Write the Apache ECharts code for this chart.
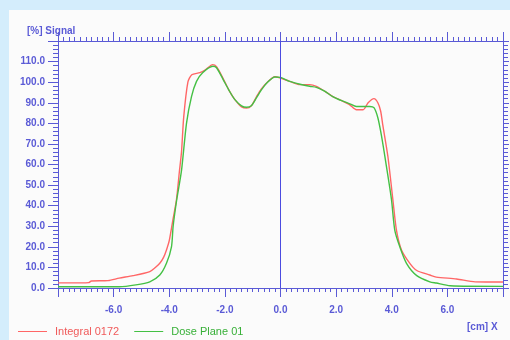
<!DOCTYPE html>
<html>
<head>
<meta charset="utf-8">
<script src="https://cdn.jsdelivr.net/npm/echarts@6/dist/echarts.min.js"></script>
<style>
  html, body { margin: 0; padding: 0; background: #d4edfc; }
  #main { width: 510px; height: 340px; }
</style>
</head>
<body>
<div id="main"></div>
<script>
// Integral 0172 (red) profile, x in cm, y in %
var redX = [-8.0, -7.2, -6.9, -6.8, -6.2, -5.8, -5.3, -4.7, -4.5, -4.34, -4.2, -4.1, -4.0, -3.87, -3.74, -3.64, -3.56, -3.48, -3.33, -3.19, -2.9, -2.7, -2.44, -2.3, -2.07, -1.85, -1.64, -1.4, -1.22, -1.05, -0.86, -0.7, -0.5, -0.2, 0.0, 0.33, 0.7, 1.05, 1.29, 1.6, 1.88, 2.2, 2.49, 2.73, 2.97, 3.15, 3.36, 3.5, 3.6, 3.68, 3.86, 4.04, 4.17, 4.35, 4.65, 4.9, 5.37, 5.6, 6.33, 7.0, 8.0];
var redY = [2.5, 2.5, 2.6, 3.4, 3.6, 4.8, 6.0, 8.0, 10, 12, 15, 18.5, 23, 33, 43, 56, 66, 83, 100, 103.6, 104.6, 106, 108.5, 107.5, 102, 96, 91.5, 88, 87.4, 88.5, 93, 96.5, 99.6, 102.6, 102, 100.4, 98.8, 98.8, 98, 95.5, 93, 91, 89, 86.6, 86.6, 90, 92, 90, 86, 79, 64, 43, 28, 18.5, 12, 8.5, 6.3, 5.3, 4.4, 3.0, 2.9];

// Dose Plane 01 (green) profile
var greenX = [-8.0, -5.8, -5.2, -4.7, -4.34, -4.1, -3.92, -3.86, -3.73, -3.56, -3.38, -3.2, -3.02, -2.8, -2.43, -2.3, -2.07, -1.85, -1.64, -1.4, -1.22, -1.05, -0.86, -0.7, -0.5, -0.2, 0.0, 0.33, 0.7, 1.05, 1.29, 1.6, 1.88, 2.2, 2.49, 2.73, 3.09, 3.21, 3.36, 3.5, 3.63, 3.81, 3.99, 4.11, 4.29, 4.53, 4.9, 5.37, 5.6, 6.1, 8.0];
var greenY = [0.6, 0.6, 1.5, 3, 6.3, 12, 20, 30, 43, 57, 80, 93, 100.4, 104.6, 107.7, 107, 101.5, 96, 91.5, 88.5, 87.8, 88.5, 92.5, 96, 99.5, 102.5, 102.3, 100.4, 99, 98, 97.5, 95.5, 93, 91, 89.5, 88.2, 88.2, 88.2, 87.6, 82.7, 74, 59, 43, 28, 20, 12, 6, 3, 2.4, 1.1, 0.8];

var seriesNames = ["Integral 0172", "Dose Plane 01"];
var axisColor = "#5a5ad6";

// zip x/y arrays into points
function toPoints(xs, ys){
	var pts = [];
	for(var i = 0; i < xs.length; i++){
		pts.push([xs[i], ys[i]]);
	}
	return pts;
}

function fmt(v){ return v.toFixed(1); }

var myChart = echarts.init(document.getElementById("main"));

var labelFont = { color: axisColor, fontFamily: "Liberation Sans", fontWeight: "bold", fontSize: 10 };

option = {
	backgroundColor: "#d4edfc",
	animation: false,
	graphic: [
		{ type: "rect", left: 9, top: 10, shape: { width: 501, height: 330 }, style: { fill: "#fbfbfb" }, z: -10 },
		{ type: "text", left: 27, top: 26, style: { text: "[%] Signal", fill: axisColor, font: "bold 10px 'Liberation Sans'" } },
		{ type: "text", left: 467, top: 322, style: { text: "[cm] X", fill: axisColor, font: "bold 10px 'Liberation Sans'" } }
	],
	legend: {
		left: 13,
		top: 321,
		itemWidth: 29,
		itemHeight: 8,
		itemGap: 15,
		icon: "path://M0,4 L29,4 L29,5 L0,5 Z",
		textStyle: { fontFamily: "Liberation Sans", fontSize: 11, padding: [0, 0, 0, 3] },
		data: [
			{ name: seriesNames[0], textStyle: { color: "#f05a5a" } },
			{ name: seriesNames[1], textStyle: { color: "#38b038" } }
		]
	},
	grid: { left: 58, right: 7, top: 41, bottom: 52 },
	xAxis: [{
		type: "value", min: -8, max: 8, interval: 2, position: "bottom",
		axisLine: { show: true, onZero: false, lineStyle: { color: axisColor } },
		axisTick: { show: true, length: 9, lineStyle: { color: axisColor } },
		minorTick: { show: true, splitNumber: 10, length: 4, lineStyle: { color: axisColor } },
		splitLine: { show: false },
		axisLabel: Object.assign({ margin: 17, showMinLabel: false, showMaxLabel: false, formatter: fmt }, labelFont)
	}, {
		type: "value", min: -8, max: 8, interval: 2, position: "top",
		axisLine: { show: true, onZero: false, lineStyle: { color: axisColor } },
		axisTick: { show: true, length: 9, lineStyle: { color: axisColor } },
		minorTick: { show: true, splitNumber: 10, length: 4, lineStyle: { color: axisColor } },
		splitLine: { show: false },
		axisLabel: { show: false }
	}],
	yAxis: [{
		type: "value", min: 0, max: 120, interval: 10, position: "left",
		axisLine: { show: true, onZero: false, lineStyle: { color: axisColor } },
		axisTick: { show: true, length: 10, lineStyle: { color: axisColor } },
		minorTick: { show: true, splitNumber: 5, length: 5, lineStyle: { color: axisColor } },
		splitLine: { show: false },
		axisLabel: Object.assign({ margin: 13, showMaxLabel: false, formatter: fmt }, labelFont)
	}, {
		type: "value", min: 0, max: 120, interval: 10, position: "right",
		axisLine: { show: true, onZero: false, lineStyle: { color: axisColor } },
		axisTick: { show: true, length: 6, lineStyle: { color: axisColor } },
		minorTick: { show: true, splitNumber: 5, length: 5, lineStyle: { color: axisColor } },
		splitLine: { show: false },
		axisLabel: { show: false }
	}],
	series: [{
		name: seriesNames[0],
		type: "line",
		data: toPoints(redX, redY),
		symbol: "none",
		smooth: 0.25,
		lineStyle: { color: "#ff6666", width: 1.4 },
		itemStyle: { color: "#ff6666" },
		z: 3,
		markLine: {
			silent: true,
			symbol: "none",
			label: { show: false },
			lineStyle: { color: "#4b4be0", type: "solid", width: 1 },
			data: [{ xAxis: 0 }]
		}
	}, {
		name: seriesNames[1],
		type: "line",
		data: toPoints(greenX, greenY),
		symbol: "none",
		smooth: 0.25,
		lineStyle: { color: "#44c044", width: 1.4 },
		itemStyle: { color: "#44c044" },
		z: 4
	}]
};

myChart.setOption(option);
</script>
</body>
</html>
